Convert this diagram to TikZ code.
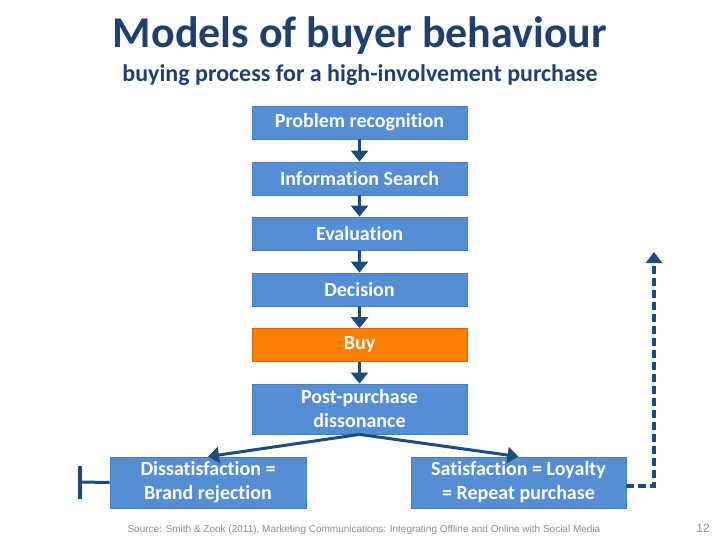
\documentclass[tikz,border=0pt]{standalone}
\usepackage{fontspec}
\setmainfont{Carlito}[Ligatures=NoCommon]
\newfontfamily\srcfont{Liberation Sans}
\usetikzlibrary{arrows.meta}
\definecolor{titleblue}{HTML}{1F3F6E}
\definecolor{boxblue}{HTML}{558ED5}
\definecolor{boxedge}{HTML}{4A7EBB}
\definecolor{buyorange}{HTML}{FF8000}
\definecolor{buyedge}{HTML}{D06A10}
\definecolor{arrowblue}{HTML}{1F4A7E}
\definecolor{srcgray}{HTML}{8C8C8C}
\begin{document}
\begin{tikzpicture}[x=1pt,y=-1pt,
  stagebox/.style={draw=boxedge, line width=0.8pt, fill=boxblue, text=white, font=\bfseries\fontsize{20}{24}\selectfont, minimum width=215pt, minimum height=33pt, inner sep=0pt, align=center},
  flow/.style={draw=arrowblue, line width=3.5pt, -{Triangle[length=11pt,width=17pt]}},
  thinflow/.style={draw=arrowblue, line width=3pt, -{Triangle[length=11pt,width=16pt]}}
]
\useasboundingbox (0,0) rectangle (720,540);
\node[text=titleblue, font=\bfseries\fontsize{44}{50}\selectfont] (title) at (360,36) {Models of buyer behaviour};
\node[text=titleblue, font=\bfseries\fontsize{24}{28}\selectfont] (sub) at (360,75) {buying process for a high-involvement purchase};

\node[stagebox] (pr) at (359.5,122.5) {Problem recognition};
\node[stagebox] (is) at (359.5,178.5) {Information Search};
\node[stagebox] (ev) at (359.5,233.5) {Evaluation};
\node[stagebox] (de) at (359.5,289.5) {Decision};
\node[stagebox, fill=buyorange, draw=buyedge] (buy) at (359.5,345) {Buy};
\node[stagebox, minimum height=50pt] (pp) at (359.5,409) {Post-purchase\\dissonance};
\node[stagebox, minimum width=196pt, minimum height=51pt] (dis) at (208,482.5) {Dissatisfaction =\\Brand rejection};
\node[stagebox, minimum height=51pt] (sat) at (518.5,482.5) {Satisfaction = Loyalty\\= Repeat purchase};

\draw[flow] (pr.south) -- (is.north);
\draw[flow] (is.south) -- (ev.north);
\draw[flow] (ev.south) -- (de.north);
\draw[flow] (de.south) -- (buy.north);
\draw[flow] (buy.south) -- (pp.north);
\draw[thinflow] (pp.south) -- (dis.north);
\draw[thinflow] (pp.south) -- (sat.north);

\coordinate (barc) at (80,482);
\draw[draw=arrowblue, line width=3pt] (dis.west) -- (barc);
\draw[draw=arrowblue, line width=4pt] (80,466) -- (80,499);

\coordinate (loopcorner) at (654,486);
\coordinate (looptop) at (654,252);
\draw[draw=arrowblue, line width=3.5pt, dash pattern=on 8pt off 4pt, -{Triangle[length=11pt,width=16pt]}] (sat.east |- loopcorner) -- (loopcorner) -- (looptop);

\node[text=srcgray, font=\srcfont\fontsize{10}{12}\selectfont, anchor=west] (src) at (124,530) {Source: Smith \& Zook (2011), Marketing Communications: Integrating Offline and Online with Social Media};
\node[text=srcgray, font=\srcfont\fontsize{12}{14}\selectfont] (pg) at (703,528) {12};
\end{tikzpicture}
\end{document}
